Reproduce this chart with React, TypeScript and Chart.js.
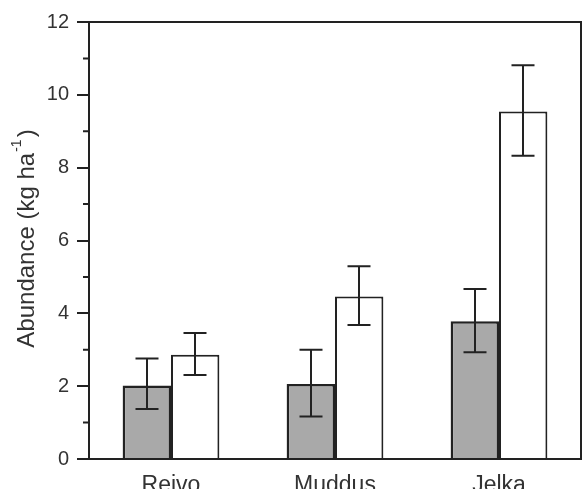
import React, { useEffect, useRef } from "react";
import { Chart, registerables } from "chart.js";

Chart.register(...registerables);

const categories = ["Reivo", "Muddus", "Jelka"];
const greyValues = [2.02, 2.06, 3.78];
const greyLower = [1.37, 1.17, 2.93];
const greyUpper = [2.76, 3.0, 4.67];
const whiteValues = [2.86, 4.46, 9.54];
const whiteLower = [2.31, 3.68, 8.33];
const whiteUpper = [3.46, 5.29, 10.81];
const yTicks = [0, 2, 4, 6, 8, 10, 12];
const yMinorTicks = [1, 3, 5, 7, 9, 11];
const yTitleMain = "Abundance (kg ha";
const yTitleSup = "-1";
const yTitleEnd = ")";

const FONT = '"Liberation Sans", Arial, Helvetica, sans-serif';
const INK = "#222222";

const errorBars = {
  id: "errorBars",
  afterDatasetsDraw(chart: any) {
    const ctx = chart.ctx;
    const y = chart.scales.y;
    const lows = [greyLower, whiteLower];
    const highs = [greyUpper, whiteUpper];
    ctx.save();
    ctx.strokeStyle = INK;
    ctx.lineWidth = 2;
    [0, 1].forEach((di) => {
      const meta = chart.getDatasetMeta(di);
      meta.data.forEach((bar: any, j: number) => {
        const x = Math.round(bar.x);
        const yt = y.getPixelForValue(highs[di][j]);
        const yb = y.getPixelForValue(lows[di][j]);
        const hw = 11.5;
        ctx.beginPath();
        ctx.moveTo(x, yt);
        ctx.lineTo(x, yb);
        ctx.moveTo(x - hw, yt);
        ctx.lineTo(x + hw, yt);
        ctx.moveTo(x - hw, yb);
        ctx.lineTo(x + hw, yb);
        ctx.stroke();
      });
    });
    ctx.restore();
  },
};

const frameAndMinor = {
  id: "frameAndMinor",
  afterDraw(chart: any) {
    const ctx = chart.ctx;
    const a = chart.chartArea;
    const y = chart.scales.y;
    ctx.save();
    ctx.strokeStyle = INK;
    ctx.lineWidth = 2;
    ctx.beginPath();
    ctx.moveTo(a.left, a.top);
    ctx.lineTo(a.right, a.top);
    ctx.lineTo(a.right, a.bottom);
    ctx.stroke();
    ctx.beginPath();
    yMinorTicks.forEach((v) => {
      const py = y.getPixelForValue(v);
      ctx.moveTo(a.left - 6, py);
      ctx.lineTo(a.left, py);
    });
    ctx.stroke();

    // axis title with superscript
    const cy = (a.top + a.bottom) / 2 - 2;
    const cx = 27;
    ctx.translate(cx, cy);
    ctx.rotate(-Math.PI / 2);
    ctx.fillStyle = "#333333";
    ctx.textBaseline = "middle";
    ctx.textAlign = "left";
    const mainFont = `24px ${FONT}`;
    const supFont = `14px ${FONT}`;
    ctx.font = mainFont;
    const w1 = ctx.measureText(yTitleMain).width;
    const w3 = ctx.measureText(yTitleEnd).width;
    ctx.font = supFont;
    const w2 = ctx.measureText(yTitleSup).width + 3;
    const total = w1 + w2 + w3;
    let x0 = -total / 2;
    ctx.font = mainFont;
    ctx.fillText(yTitleMain, x0, 0);
    x0 += w1;
    ctx.font = supFont;
    ctx.fillText(yTitleSup, x0 + 1, -10);
    x0 += w2;
    ctx.font = mainFont;
    ctx.fillText(yTitleEnd, x0, 0);
    ctx.restore();
  },
};

export default function App() {
  const ref = useRef<HTMLCanvasElement | null>(null);
  useEffect(() => {
    document.body.style.margin = "0";
    const canvas = ref.current;
    if (!canvas) return;
    const chart = new Chart(canvas, {
      type: "bar",
      data: {
        labels: categories,
        datasets: [
          {
            data: greyValues,
            backgroundColor: "#a9a9a9",
            borderColor: INK,
            borderWidth: 2.5,
          },
          {
            data: whiteValues,
            backgroundColor: "#ffffff",
            borderColor: INK,
            borderWidth: 2,
          },
        ],
      },
      options: {
        animation: false,
        responsive: false,
        devicePixelRatio: 1,
        categoryPercentage: 0.59,
        barPercentage: 1,
        layout: { padding: { left: 0, top: 22, right: 5, bottom: 0 } },
        plugins: {
          legend: { display: false },
          tooltip: { enabled: false },
        },
        scales: {
          x: {
            grid: { display: false },
            border: { display: true, color: INK, width: 2 },
            ticks: {
              color: "#333333",
              font: { family: FONT, size: 23 },
              padding: 5,
            },
            afterFit: (s: any) => {
              s.height = 30;
            },
          },
          y: {
            min: 0,
            max: 12,
            grid: {
              display: true,
              drawOnChartArea: false,
              drawTicks: true,
              tickLength: 12,
              color: INK,
              lineWidth: 2,
            },
            border: { display: true, color: INK, width: 2 },
            afterBuildTicks: (s: any) => {
              s.ticks = yTicks.map((v) => ({ value: v }));
            },
            ticks: {
              color: "#333333",
              font: { family: FONT, size: 20 },
              padding: 8,
            },
            afterFit: (s: any) => {
              s.width = 89;
            },
          },
        },
      },
      plugins: [errorBars, frameAndMinor],
    });
    return () => chart.destroy();
  }, []);
  return <canvas ref={ref} width={586} height={489} style={{ display: "block" }} />;
}
